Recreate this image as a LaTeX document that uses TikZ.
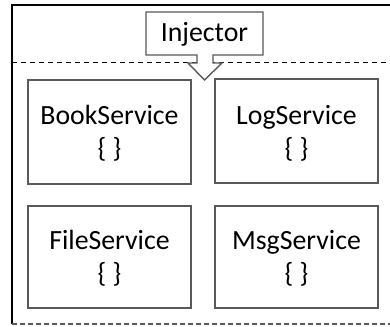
\documentclass[tikz,border=0pt]{standalone}
\usepackage{fontspec}
\setmainfont{Carlito}
\begin{document}
\begin{tikzpicture}[x=1pt,y=-1pt,
  svc/.style={draw=boxgray, line width=1.4pt, minimum width=163pt, minimum height=104pt, inner sep=0pt},
  lbl/.style={font=\fontsize{27.8}{33}\selectfont, inner sep=0pt, text=black, align=center}]
\definecolor{boxgray}{HTML}{595959}
\useasboundingbox (0,0) rectangle (390,326);
\fill[white] (0,0) rectangle (390,326);
% outer frame
\draw[line width=2.6pt, black] (390,5) -- (12,5) -- (12,324);
\draw[line width=1.2pt, boxgray, dash pattern=on 5pt off 3pt] (12,324) -- (390,324);
% dashed separator
\draw[line width=1pt, black, dash pattern=on 5pt off 4pt] (12,63) -- (390,63);
% injector callout
\draw[line width=1.4pt, boxgray, fill=white, line join=miter]
  (197,55) -- (146,55) -- (146,12) -- (263,12) -- (263,55) -- (213,55)
  -- (213,63) -- (222,63) -- (204.5,80) -- (188,63) -- (197,63) -- cycle;
\node[lbl, anchor=base] (inj) at (204.5,42) {Injector};
% services
\node[svc] (book) at (109.5,132) {};
\node[svc] (log)  at (296.5,131) {};
\node[svc, minimum height=102pt] (file) at (109.5,257) {};
\node[svc, minimum height=102pt] (msg)  at (296.5,257) {};
\node[lbl, anchor=base] (booktxt) at (109.5,157) {BookService\\\{ \}};
\node[lbl, anchor=base] (logtxt)  at (296.5,157) {LogService\\\{ \}};
\node[lbl, anchor=base] (filetxt) at (109.5,282) {FileService\\\{ \}};
\node[lbl, anchor=base] (msgtxt)  at (296.5,282) {MsgService\\\{ \}};
\end{tikzpicture}
\end{document}
